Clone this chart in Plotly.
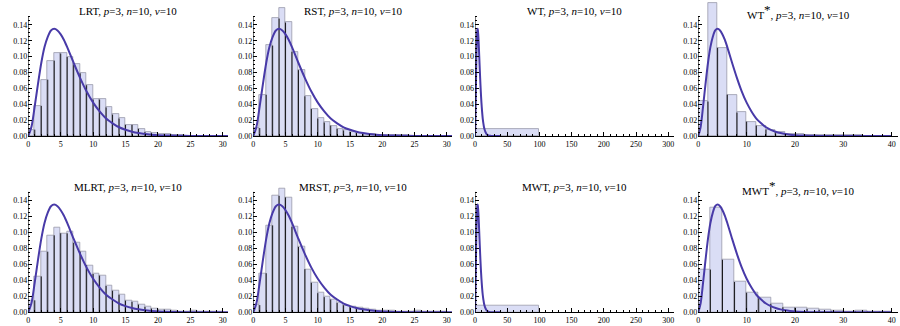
import plotly.graph_objects as go

# ---------------- data ----------------
STAR = "<sup><span style='font-size:13px'>*</span></sup>"
NAMES = ["LRT", "RST", "WT", "WT" + STAR, "MLRT", "MRST", "MWT", "MWT" + STAR]
SUFFIX = ", <i>p</i>=3, <i>n</i>=10, <i>ν</i>=10"

BIN_WIDTHS = [1, 1, 100, 2, 1, 1, 100, 2.5]

LRT = [0.008, 0.038, 0.071, 0.095, 0.104, 0.104, 0.0995, 0.090, 0.079, 0.064,
       0.046, 0.046, 0.036, 0.027, 0.022, 0.014, 0.014, 0.009, 0.005, 0.004,
       0.002, 0.0025, 0.0013, 0.001, 0.0005, 0.0004, 0.0003, 0.0003, 0.0002, 0.0002]
RST = [0.010, 0.052, 0.114, 0.148, 0.161, 0.143, 0.106, 0.083, 0.050, 0.034,
       0.022, 0.017, 0.013, 0.009, 0.007, 0.005, 0.004, 0.003, 0.002, 0.0017,
       0.0012, 0.001, 0.0008, 0.0006, 0.0005, 0.0004, 0.0004, 0.0003, 0.0003, 0.0002]
WT = [0.0086]
WT_STAR = [0.0434, 0.168, 0.111, 0.052, 0.0295, 0.018, 0.013, 0.008, 0.005, 0.0028,
           0.002, 0.0017, 0.0013, 0.001, 0.0008, 0.0007, 0.0006, 0.0005, 0.0005, 0.0004]
MLRT = [0.015, 0.045, 0.076, 0.0965, 0.1065, 0.099, 0.101, 0.087, 0.076, 0.059,
        0.048, 0.046, 0.033, 0.027, 0.022, 0.0146, 0.013, 0.0096, 0.0067, 0.0046,
        0.0033, 0.0033, 0.0017, 0.0013, 0.0008, 0.0017, 0.0005, 0.0004, 0.0004, 0.0003]
MRST = [0.009, 0.049, 0.109, 0.146, 0.1545, 0.144, 0.107, 0.082, 0.054, 0.037,
        0.024, 0.019, 0.016, 0.0117, 0.0088, 0.0067, 0.0063, 0.0046, 0.003, 0.002,
        0.0017, 0.002, 0.0013, 0.001, 0.0008, 0.0017, 0.0005, 0.0004, 0.0004, 0.0003]
MWT = [0.0085]
MWT_STAR = [0.0536, 0.1308, 0.0658, 0.038, 0.0245, 0.0177, 0.0105, 0.0062, 0.0058, 0.0042,
            0.003, 0.0017, 0.0013, 0.0017, 0.0008, 0.0008]

HEIGHTS = [LRT, RST, WT, WT_STAR, MLRT, MRST, MWT, MWT_STAR]

# limiting density curve
CURVE_X = [0, 0.5, 1, 1.5, 2, 2.5, 3, 3.5, 4, 4.5, 5, 5.5, 6, 7, 8, 9, 10, 11, 12, 13,
           14, 15, 16, 17, 18, 19, 20, 22, 24, 26, 28, 30, 35, 40]
CURVE_Y = [0, 0.012, 0.038, 0.066, 0.092, 0.112, 0.125, 0.133, 0.135, 0.133, 0.128,
           0.121, 0.112, 0.092, 0.073, 0.056, 0.042, 0.031, 0.022, 0.016, 0.011,
           0.0078, 0.0054, 0.0037, 0.0025, 0.0017, 0.0011, 0.0005, 0.0002, 0.0001,
           0.00004, 0.00002, 0, 0]

X_MAJOR = [[0, 5, 10, 15, 20, 25, 30], [0, 5, 10, 15, 20, 25, 30],
           [0, 50, 100, 150, 200, 250, 300], [0, 10, 20, 30, 40]]
Y_MAJOR = [0, 0.02, 0.04, 0.06, 0.08, 0.10, 0.12, 0.14]

# ---------------- layout / style ----------------
W, H = 900, 326
COL_PX = [(28.3, 228.0), (253.3, 452.0), (475.0, 674.0), (698.3, 898.0)]
ROW_PX = [(1.1, 136.0), (176.7, 312.3)]
TITLE_Y_PX = [11.0, 187.3]
X_MAX = [30.8, 30.8, 309.0, 41.3]
X_MINOR_STEP = [1, 1, 10, 2]
Y_TOP = 0.17
Y_AXIS_TOP = 0.151

FILL = "rgb(218,221,245)"
EDGE = "rgba(150,150,165,0.75)"
CURVE_COLOR = "rgb(72,58,168)"
FONT = "Liberation Serif"

fig = go.Figure()
annotations = []
shapes = []

y_minor = [round(i * 0.005, 3) for i in range(31) if i % 4 != 0]

for k in range(8):
    r, c = divmod(k, 4)
    n = k + 1
    xa = "x" if n == 1 else f"x{n}"
    ya = "y" if n == 1 else f"y{n}"
    w = BIN_WIDTHS[k]
    h = HEIGHTS[k]
    centers = [w * (i + 0.5) for i in range(len(h))]

    fig.add_trace(go.Bar(
        x=centers, y=h, width=[w] * len(h),
        marker=dict(color=FILL, line=dict(color=EDGE, width=1)),
        xaxis=xa, yaxis=ya, showlegend=False, hoverinfo="skip"))

    # darker shared bar edges (up to the lower of the two neighbouring bars)
    lx, ly = [], []
    for i in range(1, len(h)):
        e = w * i
        lx += [e, e, None]
        ly += [0, min(h[i - 1], h[i]), None]
    if lx:
        fig.add_trace(go.Scatter(
            x=lx, y=ly, mode="lines", line=dict(color="rgba(0,0,0,0.9)", width=1),
            xaxis=xa, yaxis=ya, showlegend=False, hoverinfo="skip"))

    fig.add_trace(go.Scatter(
        x=CURVE_X, y=CURVE_Y, mode="lines",
        line=dict(color=CURVE_COLOR, width=2, shape="spline", smoothing=0.8),
        xaxis=xa, yaxis=ya, showlegend=False, hoverinfo="skip"))

    x0p, x1p = COL_PX[c]
    y0p, y1p = ROW_PX[r]
    xdom = [x0p / W, x1p / W]
    ydom = [1 - y1p / H, 1 - y0p / H]

    xmaj = X_MAJOR[c]
    xstep = X_MINOR_STEP[c]
    xminor = [xstep * i for i in range(int(xmaj[-1] / xstep) + 1)]
    xminor = [v for v in xminor if v not in xmaj]

    fig.layout[f"xaxis{'' if n == 1 else n}"] = dict(
        domain=xdom, anchor=ya, range=[0, X_MAX[c]], automargin=False,
        showline=True, linecolor="black", linewidth=1,
        showgrid=False, zeroline=False,
        tickmode="array", tickvals=xmaj, ticktext=[str(v) for v in xmaj],
        ticks="inside", ticklen=4, tickwidth=1, tickcolor="black",
        minor=dict(tickmode="array", tickvals=xminor, ticks="inside",
                   ticklen=2, tickwidth=1, tickcolor="black"),
        tickfont=dict(family=FONT, size=8, color="black"))
    fig.layout[f"yaxis{'' if n == 1 else n}"] = dict(
        domain=ydom, anchor=xa, range=[0, Y_TOP], automargin=False,
        showline=False, showgrid=False, zeroline=False,
        tickmode="array", tickvals=Y_MAJOR, ticktext=[f"{v:.2f}" for v in Y_MAJOR],
        ticks="inside", ticklen=4, tickwidth=1, tickcolor="black",
        minor=dict(tickmode="array", tickvals=y_minor, ticks="inside",
                   ticklen=2, tickwidth=1, tickcolor="black"),
        tickfont=dict(family=FONT, size=8, color="black"))

    shapes.append(dict(type="line", xref=xa, yref=ya, x0=0, x1=0, y0=0, y1=Y_AXIS_TOP,
                       line=dict(color="black", width=1)))

    annotations.append(dict(
        text=NAMES[k] + SUFFIX, x=(xdom[0] + xdom[1]) / 2, y=1 - TITLE_Y_PX[r] / H,
        xref="paper", yref="paper", xanchor="center", yanchor="middle",
        showarrow=False, font=dict(family=FONT, size=11, color="black")))

fig.update_layout(
    width=W, height=H, margin=dict(l=0, r=0, t=0, b=0, autoexpand=False),
    paper_bgcolor="white", plot_bgcolor="white",
    barmode="overlay", bargap=0,
    annotations=annotations, shapes=shapes)

fig.write_html(
    "out.html",
    config={"displayModeBar": False},
    post_script="document.body.style.margin='0';document.body.style.overflow='hidden';")
